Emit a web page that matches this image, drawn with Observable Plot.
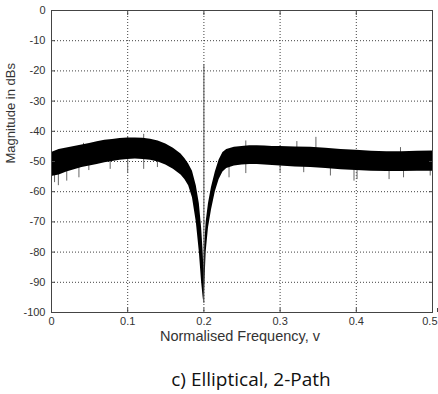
<!DOCTYPE html>
<html>
<head>
<meta charset="utf-8">
<script src="https://cdn.jsdelivr.net/npm/d3@7"></script>
<script src="https://cdn.jsdelivr.net/npm/@observablehq/plot@0.6"></script>
<style>
  html, body { margin: 0; padding: 0; background: #fff; }
  #caption { width: 438px; box-sizing: border-box; padding-left: 64px; text-align: center;
    font-family: "Open Sans", sans-serif; font-size: 19px; color: #111; height: 34px; line-height: 38px; white-space: nowrap; }
</style>
</head>
<body>
<div id="chart"></div>
<div id="caption">c) Elliptical, 2-Path</div>
<script>
// Tick values
const xTicks = [0, 0.1, 0.2, 0.3, 0.4, 0.5];
const yTicks = [0, -10, -20, -30, -40, -50, -60, -70, -80, -90, -100];

// Noise band (dense black region) envelope
const freq = [0, 0.01, 0.02, 0.03, 0.04, 0.05, 0.06, 0.07, 0.08, 0.09, 0.10, 0.11, 0.12, 0.13, 0.14, 0.15, 0.16, 0.17,
  0.175, 0.18, 0.185, 0.19, 0.194, 0.197, 0.199, 0.2, 0.201, 0.203, 0.206, 0.21, 0.215, 0.22, 0.225, 0.23,
  0.24, 0.25, 0.26, 0.27, 0.28, 0.29, 0.30,
  0.32, 0.34, 0.36, 0.38, 0.40, 0.42, 0.44, 0.46, 0.48, 0.50];
const upperDb = [-47, -46, -45.5, -45, -44.5, -44, -43.5, -43, -42.7, -42.4, -42.2, -42.2, -42.3, -42.6, -43.2, -44.2, -45.6, -47.5,
  -49, -50.8, -53.2, -58, -64, -72, -80, -86, -78, -70, -64, -58.5, -53.5, -49.5, -47, -46,
  -45.3, -45, -44.8, -44.8, -44.9, -45, -45,
  -45.2, -45.3, -45.6, -46, -46.3, -46.6, -46.8, -46.8, -46.6, -46.5];
const lowerDb = [-55, -54.5, -53.5, -52.7, -52, -51.5, -51, -50.4, -50, -49.6, -49.3, -49.2, -49.3, -49.6, -50.2, -51.2, -52.6, -54.5,
  -56, -58, -62, -70, -80, -90, -95, -97, -92, -80, -72, -66, -60, -56, -53.5, -52.3,
  -51.5, -51.2, -51, -51, -51.2, -51.3, -51.5,
  -51.8, -52, -52.3, -52.7, -53, -53.2, -53.3, -53.3, -53.2, -53.2];

// Isolated noise spikes sticking out of the band
const spikeDownF = [0.004, 0.009, 0.02, 0.036, 0.049, 0.077, 0.1, 0.121, 0.139, 0.233, 0.255, 0.3, 0.331, 0.366, 0.397, 0.401, 0.443, 0.462, 0.497];
const spikeDownDb = [-57, -58, -56.5, -55.4, -53, -52.6, -54, -52.6, -52, -55.4, -54, -53.7, -53.7, -54.8, -56.5, -56, -56, -55.4, -54.8];
const spikeUpF = [0.042, 0.1, 0.121, 0.255, 0.322, 0.347, 0.458];
const spikeUpDb = [-44, -42, -41, -43.2, -43.4, -42, -45.4];

// Tone at v = 0.2
const toneF = [0.2];
const toneTop = [-18];
const toneBottom = [-97];

const band = freq.map((f, i) => ({f, hi: upperDb[i], lo: lowerDb[i]}));
const spikes = [
  ...spikeDownF.map((f, i) => ({f, v: spikeDownDb[i]})),
  ...spikeUpF.map((f, i) => ({f, v: spikeUpDb[i]}))
];
const tone = toneF.map((f, i) => ({f, top: toneTop[i], bottom: toneBottom[i]}));
const fmt = d => String(d);

const chart = Plot.plot({
  width: 438,
  height: 360,
  marginLeft: 51,
  marginRight: 6,
  marginTop: 10,
  marginBottom: 48,
  x: {domain: [0, 0.5]},
  y: {domain: [-100, 0]},
  style: {fontFamily: "'Liberation Sans', Arial, sans-serif", fontSize: "11px", color: "#333", background: "#fff"},
  marks: [
    Plot.gridX(xTicks.slice(1, -1), {stroke: "#000", strokeOpacity: 0.75, strokeDasharray: "1,2"}),
    Plot.gridY(yTicks.slice(1, -1), {stroke: "#000", strokeOpacity: 0.75, strokeDasharray: "1,2"}),
    Plot.ruleX(spikes, {x: "f", y1: "v", y2: -48, stroke: "#666", strokeWidth: 1}),
    Plot.areaY(band, {x: "f", y1: "lo", y2: "hi", fill: "#000"}),
    Plot.ruleX(tone, {x: "f", y1: "bottom", y2: "top", stroke: "#555", strokeWidth: 1}),
    Plot.frame({stroke: "#444"}),
    Plot.axisX(xTicks.slice(0, -1), {anchor: "bottom", tickSize: -4, tickPadding: 9, tickFormat: fmt, label: null, stroke: "#444"}),
    Plot.axisX(xTicks.slice(-1), {anchor: "bottom", tickSize: -4, tickPadding: 9, tickFormat: fmt, label: null, stroke: "#444", textAnchor: "end", dx: 5}),
    Plot.axisX(xTicks, {anchor: "top", tickSize: -4, tickFormat: () => "", label: null, stroke: "#444"}),
    Plot.axisY(yTicks, {anchor: "left", tickSize: -4, tickPadding: 10, tickFormat: fmt, label: null, stroke: "#444"}),
    Plot.axisY(yTicks, {anchor: "right", tickSize: -4, tickFormat: () => "", label: null, stroke: "#444"}),
    Plot.text(["Normalised Frequency, v"], {frameAnchor: "bottom", dy: 28, dx: -2, fontSize: 14.5, fill: "#333"}),
    Plot.text(["Magnitude in dBs"], {frameAnchor: "left", dx: -41, dy: 2, rotate: -90, fontSize: 13, fill: "#333"})
  ]
});
document.getElementById("chart").append(chart);
</script>
</body>
</html>
